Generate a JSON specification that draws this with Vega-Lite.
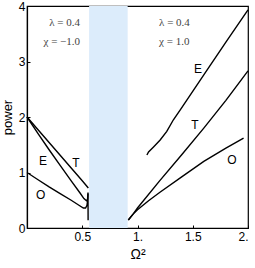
{
  "$schema": "https://vega.github.io/schema/vega-lite/v6.json",
  "width": 221,
  "height": 222,
  "autosize": {"type": "none"},
  "padding": {"left": 27, "top": 6, "right": 7, "bottom": 40},
  "background": "white",
  "config": {
    "view": {"stroke": "black", "strokeWidth": 1.2},
    "axis": {"labelFont": "Liberation Sans", "titleFont": "Liberation Sans", "labelColor": "black", "titleColor": "black", "domainColor": "black", "tickColor": "black", "grid": false, "labelFontSize": 12, "titleFontSize": 13, "titleFontWeight": "normal"}
  },
  "datasets": {
    "curves": [
      {"s": "EL", "i": 0, "x": 0, "y": 2.0},
      {"s": "EL", "i": 1, "x": 0.1, "y": 1.7},
      {"s": "EL", "i": 2, "x": 0.2, "y": 1.41},
      {"s": "EL", "i": 3, "x": 0.3, "y": 1.13},
      {"s": "EL", "i": 4, "x": 0.4, "y": 0.85},
      {"s": "EL", "i": 5, "x": 0.48, "y": 0.63},
      {"s": "EL", "i": 6, "x": 0.515, "y": 0.53},
      {"s": "EL", "i": 7, "x": 0.538, "y": 0.49},
      {"s": "EL", "i": 8, "x": 0.548, "y": 0.52},
      {"s": "EL", "i": 9, "x": 0.552, "y": 0.62},
      {"s": "TL", "i": 0, "x": 0, "y": 2.0},
      {"s": "TL", "i": 1, "x": 0.1, "y": 1.77},
      {"s": "TL", "i": 2, "x": 0.2, "y": 1.54},
      {"s": "TL", "i": 3, "x": 0.3, "y": 1.31},
      {"s": "TL", "i": 4, "x": 0.4, "y": 1.08},
      {"s": "TL", "i": 5, "x": 0.5, "y": 0.85},
      {"s": "TL", "i": 6, "x": 0.555, "y": 0.72},
      {"s": "OL", "i": 0, "x": 0, "y": 1.0},
      {"s": "OL", "i": 1, "x": 0.1, "y": 0.87},
      {"s": "OL", "i": 2, "x": 0.2, "y": 0.74},
      {"s": "OL", "i": 3, "x": 0.3, "y": 0.62},
      {"s": "OL", "i": 4, "x": 0.4, "y": 0.5},
      {"s": "OL", "i": 5, "x": 0.47, "y": 0.41},
      {"s": "OL", "i": 6, "x": 0.51, "y": 0.36},
      {"s": "OL", "i": 7, "x": 0.53, "y": 0.36},
      {"s": "OL", "i": 8, "x": 0.543, "y": 0.41},
      {"s": "OL", "i": 9, "x": 0.55, "y": 0.52},
      {"s": "OL", "i": 10, "x": 0.552, "y": 0.64},
      {"s": "OL", "i": 11, "x": 0.553, "y": 0.14},
      {"s": "ER", "i": 0, "x": 1.085, "y": 1.315},
      {"s": "ER", "i": 1, "x": 1.1, "y": 1.37},
      {"s": "ER", "i": 2, "x": 1.145, "y": 1.46},
      {"s": "ER", "i": 3, "x": 1.205, "y": 1.585},
      {"s": "ER", "i": 4, "x": 1.265, "y": 1.74},
      {"s": "ER", "i": 5, "x": 1.325, "y": 1.95},
      {"s": "ER", "i": 6, "x": 1.387, "y": 2.13},
      {"s": "ER", "i": 7, "x": 1.6, "y": 2.76},
      {"s": "ER", "i": 8, "x": 1.8, "y": 3.35},
      {"s": "ER", "i": 9, "x": 2.0, "y": 3.93},
      {"s": "TR", "i": 0, "x": 0.917, "y": 0.144},
      {"s": "TR", "i": 1, "x": 0.96, "y": 0.25},
      {"s": "TR", "i": 2, "x": 1.0, "y": 0.36},
      {"s": "TR", "i": 3, "x": 1.2, "y": 0.85},
      {"s": "TR", "i": 4, "x": 1.4, "y": 1.32},
      {"s": "TR", "i": 5, "x": 1.6, "y": 1.8},
      {"s": "TR", "i": 6, "x": 1.8, "y": 2.3},
      {"s": "TR", "i": 7, "x": 2.0, "y": 2.83},
      {"s": "OR", "i": 0, "x": 0.917, "y": 0.144},
      {"s": "OR", "i": 1, "x": 0.96, "y": 0.25},
      {"s": "OR", "i": 2, "x": 1.0, "y": 0.33},
      {"s": "OR", "i": 3, "x": 1.1, "y": 0.49},
      {"s": "OR", "i": 4, "x": 1.2, "y": 0.64},
      {"s": "OR", "i": 5, "x": 1.4, "y": 0.92},
      {"s": "OR", "i": 6, "x": 1.6, "y": 1.2},
      {"s": "OR", "i": 7, "x": 1.8, "y": 1.44},
      {"s": "OR", "i": 8, "x": 1.96, "y": 1.62}
    ],
    "labels": [
      {"x": 0.145, "y": 1.21, "t": "E"},
      {"x": 0.443, "y": 1.17, "t": "T"},
      {"x": 0.124, "y": 0.6, "t": "O"},
      {"x": 1.548, "y": 2.86, "t": "E"},
      {"x": 1.52, "y": 1.855, "t": "T"},
      {"x": 1.855, "y": 1.225, "t": "O"}
    ],
    "notesL": [
      {"x": 0.48, "y": 3.69, "t": "λ = 0.4"},
      {"x": 0.48, "y": 3.35, "t": "χ = −1.0"}
    ],
    "notesR": [
      {"x": 1.195, "y": 3.69, "t": "λ = 0.4"},
      {"x": 1.195, "y": 3.35, "t": "χ = 1.0"}
    ],
    "band": [{"x": 0.562, "x2": 0.911}]
  },
  "layer": [
    {
      "data": {"name": "band"},
      "mark": {"type": "rect", "color": "#dcecfb"},
      "encoding": {
        "x": {"field": "x", "type": "quantitative", "scale": {"domain": [0, 2]},
              "axis": {"values": [0.5, 1, 1.5, 2], "labelExpr": "datum.value == 1 ? '1.' : datum.value == 2 ? '2.' : format(datum.value, '.1f')", "title": "Ω²", "titleFontSize": 14, "tickSize": -3, "labelPadding": 6, "titlePadding": 5, "domainWidth": 1.2}},
        "x2": {"field": "x2"},
        "y": {"value": 0},
        "y2": {"value": 222}
      }
    },
    {
      "data": {"name": "curves"},
      "mark": {"type": "line", "color": "black", "strokeWidth": 1.4},
      "encoding": {
        "x": {"field": "x", "type": "quantitative"},
        "y": {"field": "y", "type": "quantitative", "scale": {"domain": [0, 4]},
              "axis": {"values": [0, 1, 2, 3, 4], "format": "d", "title": "power", "tickSize": -3, "labelPadding": 5, "titlePadding": 4, "domainWidth": 1.2}},
        "detail": {"field": "s"},
        "order": {"field": "i", "type": "quantitative"}
      }
    },
    {
      "data": {"name": "labels"},
      "mark": {"type": "text", "font": "Liberation Sans", "fontSize": 12, "color": "black"},
      "encoding": {
        "x": {"field": "x", "type": "quantitative"},
        "y": {"field": "y", "type": "quantitative"},
        "text": {"field": "t"}
      }
    },
    {
      "data": {"name": "notesL"},
      "mark": {"type": "text", "font": "Liberation Serif", "fontSize": 11, "color": "#444", "align": "right"},
      "encoding": {
        "x": {"field": "x", "type": "quantitative"},
        "y": {"field": "y", "type": "quantitative"},
        "text": {"field": "t"}
      }
    },
    {
      "data": {"name": "notesR"},
      "mark": {"type": "text", "font": "Liberation Serif", "fontSize": 11, "color": "#444", "align": "left"},
      "encoding": {
        "x": {"field": "x", "type": "quantitative"},
        "y": {"field": "y", "type": "quantitative"},
        "text": {"field": "t"}
      }
    }
  ]
}
